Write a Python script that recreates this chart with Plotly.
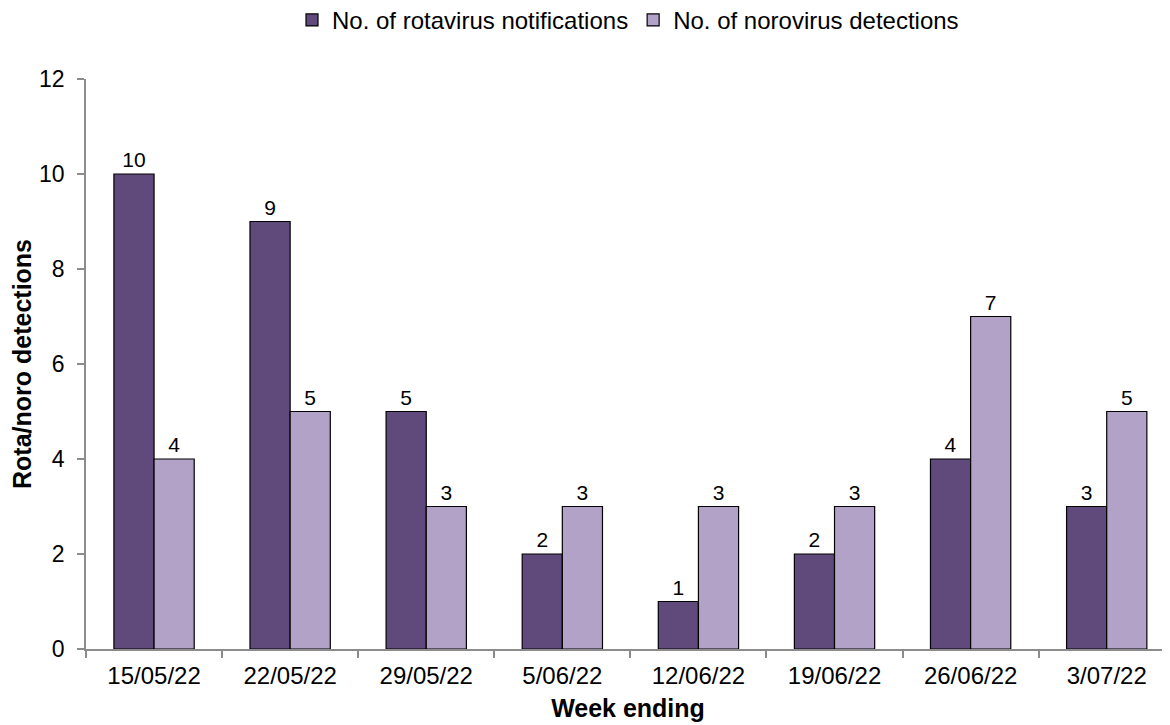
import plotly.graph_objects as go

weeks = ["15/05/22", "22/05/22", "29/05/22", "5/06/22", "12/06/22", "19/06/22", "26/06/22", "3/07/22"]
rotavirus = [10, 9, 5, 2, 1, 2, 4, 3]
norovirus = [4, 5, 3, 3, 3, 3, 7, 5]

font_family = "Liberation Sans, Arial, sans-serif"

fig = go.Figure()
fig.add_trace(go.Bar(
    x=weeks, y=rotavirus, name="No. of rotavirus notifications",
    marker=dict(color="#604A7B", line=dict(color="black", width=1.2)),
    text=rotavirus, textposition="outside", cliponaxis=False,
    textfont=dict(size=21, color="black", family=font_family),
))
fig.add_trace(go.Bar(
    x=weeks, y=norovirus, name="No. of norovirus detections",
    marker=dict(color="#B3A2C7", line=dict(color="black", width=1.2)),
    text=norovirus, textposition="outside", cliponaxis=False,
    textfont=dict(size=21, color="black", family=font_family),
))

fig.update_layout(
    width=1170, height=725,
    barmode="group", bargap=0.41, bargroupgap=0,
    plot_bgcolor="white", paper_bgcolor="white",
    font=dict(family=font_family, size=21, color="black"),
    margin=dict(l=78, r=8, t=71, b=84, autoexpand=False),
    legend=dict(orientation="h", x=0.5, xanchor="center", y=0.983, yref="container",
                yanchor="middle", font=dict(size=24), itemwidth=30,
                traceorder="normal", tracegroupgap=0),
    xaxis=dict(
        type="category", range=[-0.5, 7.465], automargin=False,
        showline=True, linecolor="#8c8c8c", linewidth=1.5,
        ticks="outside", tickson="boundaries", ticklen=7, tickcolor="#8c8c8c", tickwidth=1.5,
        showgrid=False, ticklabelstandoff=4,
        tickfont=dict(size=24),
        title=dict(text="<b>Week ending</b>", font=dict(size=25), standoff=12),
    ),
    yaxis=dict(
        range=[0, 12], dtick=2, automargin=False,
        showline=True, linecolor="#8c8c8c", linewidth=1.5,
        ticks="outside", ticklen=7, tickcolor="#8c8c8c", tickwidth=1.5,
        showgrid=False, zeroline=False, ticklabelstandoff=8,
        tickfont=dict(size=23),
        title=dict(text="<b>Rota/noro detections</b>", font=dict(size=25), standoff=12),
    ),
)

fig.write_html("out.html")
